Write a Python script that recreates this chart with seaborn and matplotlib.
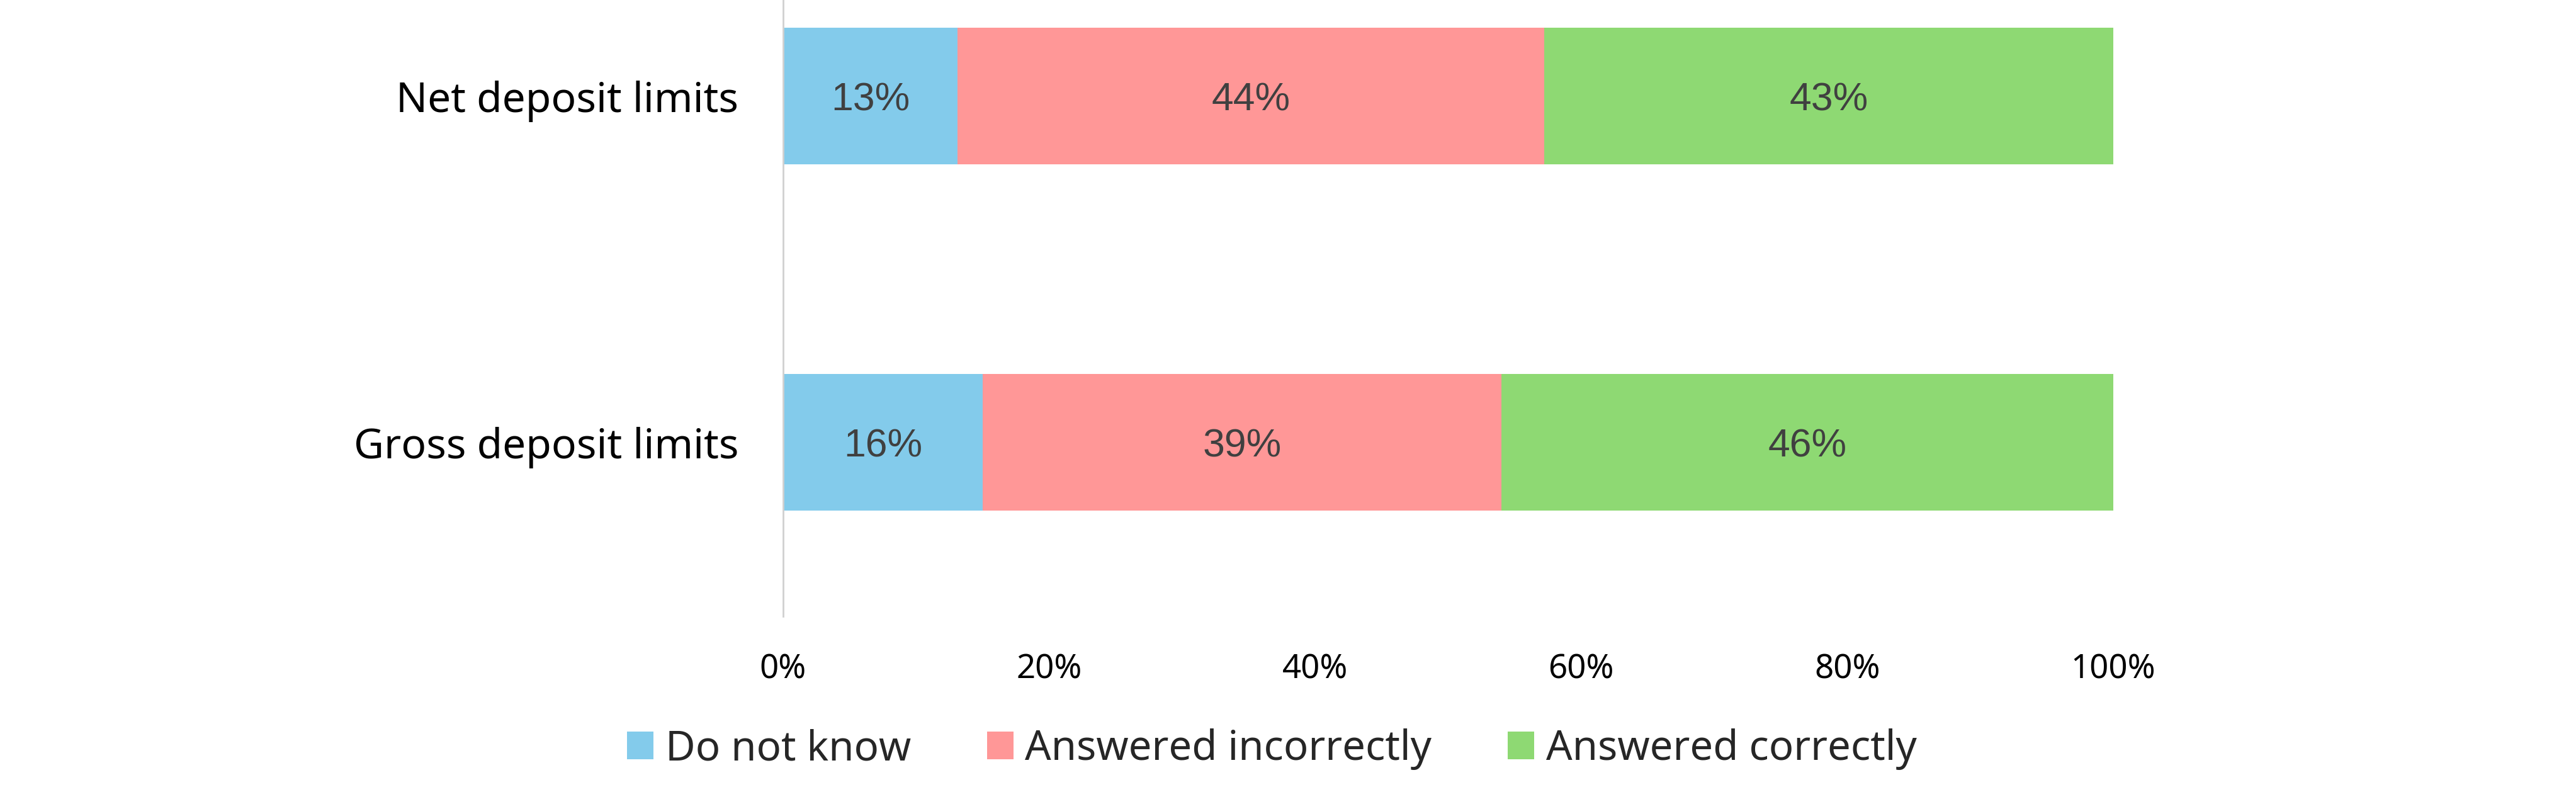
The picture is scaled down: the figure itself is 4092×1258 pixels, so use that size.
import numpy as np
import pandas as pd
import matplotlib
matplotlib.use("Agg")
import matplotlib.pyplot as plt
import seaborn as sns
from matplotlib.patches import Patch

# data
categories = ["Net deposit limits", "Gross deposit limits"]
series_names = ["Do not know", "Answered incorrectly", "Answered correctly"]
do_not_know = [13.1, 15.0]
incorrect = [44.1, 39.0]
correct = [42.8, 46.0]
dnk_labels = ["13%", "16%"]
incorrect_labels = ["44%", "39%"]
correct_labels = ["43%", "46%"]
x_ticks = [0, 20, 40, 60, 80, 100]
x_tick_labels = ["0%", "20%", "40%", "60%", "80%", "100%"]

colors = ["#83CBEB", "#FF9797", "#8ED973"]

sns.set_style("white")
plt.rcParams["font.family"] = ["Noto Sans", "DejaVu Sans"]

df = pd.DataFrame({
    "category": categories,
    "dnk": do_not_know,
    "inc": incorrect,
    "cor": correct,
})
df["cum1"] = df["dnk"]
df["cum2"] = df["dnk"] + df["inc"]
df["cum3"] = df["cum2"] + df["cor"]

fig = plt.figure(figsize=(40.92, 12.58), dpi=100)
ax = fig.add_axes([0.304, 0.222, 0.5164, 0.778])

# stacked bars: draw the longest cumulative first, then overlay shorter ones
for col, c in [("cum3", colors[2]), ("cum2", colors[1]), ("cum1", colors[0])]:
    sns.barplot(data=df, x=col, y="category", order=categories, orient="h",
                color=c, saturation=1, width=0.395, linewidth=0, ax=ax)

# segment labels
segments = [
    (np.zeros(len(df)), df["dnk"], dnk_labels),
    (df["cum1"], df["inc"], incorrect_labels),
    (df["cum2"], df["cor"], correct_labels),
]
for start, width, labels in segments:
    for i, (s, w, lab) in enumerate(zip(start, width, labels)):
        ax.text(s + w / 2, i, lab, ha="center", va="center_baseline", fontsize=45,
                color="#404040", family=["Liberation Sans", "DejaVu Sans"])

ax.set_xlim(0, 100)
ax.set_ylim(1.502, -0.278)
ax.set_xticks(x_ticks)
ax.set_xticklabels(x_tick_labels, fontsize=38, color="#000000")
ax.tick_params(axis="x", length=0, pad=42)
ax.tick_params(axis="y", length=0, pad=51, labelsize=47.5, labelcolor="#000000")
ax.set_xlabel("")
ax.set_ylabel("")

for side in ["top", "right", "bottom"]:
    ax.spines[side].set_visible(False)
ax.spines["left"].set_color("#D0D0D0")
ax.spines["left"].set_linewidth(2)

handles = [Patch(facecolor=c, edgecolor="none", label=n) for c, n in zip(colors, series_names)]
fig.legend(handles=handles, loc="center", bbox_to_anchor=(0.4937, 0.054), ncol=3,
           frameon=False, fontsize=47, handlelength=0.65, handleheight=0.65,
           handletextpad=0.28, columnspacing=1.85)

fig.savefig("out.png", dpi=100)
